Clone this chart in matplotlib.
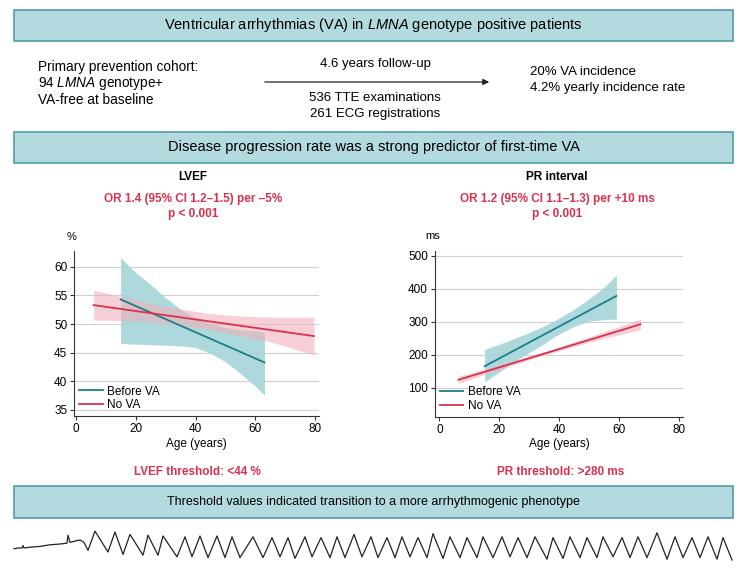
import matplotlib
matplotlib.use("Agg")
import matplotlib.pyplot as plt
from matplotlib.patches import Rectangle, FancyArrowPatch

plt.rcParams['font.family'] = ['Liberation Sans', 'DejaVu Sans']
plt.rcParams['mathtext.fontset'] = 'custom'
plt.rcParams['mathtext.it'] = 'Liberation Sans:italic'
plt.rcParams['mathtext.rm'] = 'Liberation Sans'

#colours
box_fill = '#b3dade'
box_edge = '#4f9ea5'
teal = '#1b7f8a'
teal_band = '#a9d6da'
red = '#d8324f'
red_band = '#f2b0bb'

#LVEF panel data (age in years, LVEF %)
lvef_va_age = [15, 63]
lvef_va_fit = [54.3, 43.3]
lvef_va_band_age = [15, 20, 25, 30, 35, 40, 45, 50, 55, 60, 63]
lvef_va_lo = [46.6, 46.5, 46.4, 46.3, 46.2, 45.9, 44.9, 43.4, 41.4, 39.1, 37.6]
lvef_va_hi = [61.6, 59.0, 56.9, 54.6, 52.6, 51.1, 50.1, 49.4, 49.0, 48.8, 48.6]

lvef_no_age = [6, 79.5]
lvef_no_fit = [53.3, 47.9]
lvef_no_band_age = [6, 15, 25, 35, 45, 55, 65, 79.5]
lvef_no_lo = [50.7, 50.6, 50.4, 49.8, 49.0, 48.0, 46.9, 44.6]
lvef_no_hi = [55.9, 54.8, 53.6, 52.6, 51.8, 51.4, 51.2, 51.2]

#PR interval panel data (age in years, PR ms)
pr_va_age = [15.1, 59]
pr_va_fit = [165, 378]
pr_va_band_age = [15.1, 22, 28, 34, 39, 45, 50, 55, 59]
pr_va_lo = [118, 160, 196, 228, 258, 286, 302, 306, 308]
pr_va_hi = [216, 238, 260, 283, 306, 338, 370, 405, 442]

pr_no_age = [6.4, 67]
pr_no_fit = [124, 292]
pr_no_band_age = [6.4, 20, 35, 50, 67]
pr_no_lo = [113, 155, 199, 238, 276]
pr_no_hi = [135, 169, 209, 254, 308]

#ECG strip (time in px units, amplitude in arbitrary units)
ecg_t = [14, 18, 22, 23, 24, 30, 40, 50, 60, 67, 68, 70, 76, 80, 84, 88, 95, 108, 115, 123, 130, 143, 148, 158,
         163, 177, 185, 192, 200, 208, 217, 225, 232, 240, 253, 263, 272, 280, 288, 295, 305, 312, 321, 330,
         337, 345, 354, 362, 371, 378, 387, 395, 402, 410, 418, 427, 433, 443, 450, 460, 467, 477, 483, 493,
         502, 510, 518, 527, 535, 547, 553, 563, 570, 580, 587, 597, 603, 613, 622, 630, 638, 647, 657, 667,
         675, 683, 692, 700, 708, 717, 723, 732]
ecg_amp = [-0.1, 0.0, 0.0, 0.3, 0.0, 0.1, 0.2, 0.4, 0.5, 0.6, 1.6, 0.7, 0.9, 1.0, 0.7, -0.3, 2.1, -0.5, 2.0, -0.8,
           1.7, -0.9, 1.6, -0.9, 1.5, -1.1, 1.4, -1.1, 1.5, -1.2, 1.5, -1.2, 1.4, -1.2, 1.4, -1.2, 1.3, -1.1,
           1.3, -1.3, 1.4, -1.1, 1.3, -1.2, 1.4, -1.2, 1.7, -1.1, 1.4, -1.2, 1.3, -1.2, 1.4, -1.1, 1.3, -1.2,
           1.8, -1.3, 1.4, -1.2, 1.3, -1.2, 1.4, -1.2, 1.4, -1.1, 1.3, -1.2, 1.4, -1.4, 1.3, -1.3, 1.4, -1.2,
           1.3, -1.2, 1.4, -1.1, 1.3, -1.2, 1.4, -1.2, 1.9, -1.4, 1.4, -1.2, 1.3, -1.2, 1.4, -1.4, 1.3, -1.5]

fig = plt.figure(figsize=(7.47, 5.74), dpi=100)

#overlay in pixel coordinates for boxes and text
bg = fig.add_axes([0, 0, 1, 1])
bg.set_xlim(0, 747)
bg.set_ylim(574, 0)
bg.axis('off')

def banner(y0, y1, txt, size):
    bg.add_patch(Rectangle((14, y0), 719, y1 - y0, facecolor=box_fill, edgecolor=box_edge, lw=1.2))
    bg.text(373.5, (y0 + y1) / 2, txt, ha='center', va='center', fontsize=size)

banner(10, 41, r'Ventricular arrhythmias (VA) in $\mathit{LMNA}$ genotype positive patients', 10.5)
banner(132, 163, 'Disease progression rate was a strong predictor of first-time VA', 10.5)
banner(486, 518, 'Threshold values indicated transition to a more arrhythmogenic phenotype', 9)

bg.text(38, 67, 'Primary prevention cohort:', fontsize=9.8, va='center')
bg.text(38, 84, r'94 $\mathit{LMNA}$ genotype+', fontsize=9.8, va='center')
bg.text(38, 100, 'VA-free at baseline', fontsize=9.8, va='center')
bg.text(375, 64, '4.6 years follow-up', fontsize=9.5, ha='center', va='center')
bg.text(375, 98, '536 TTE examinations', fontsize=9.5, ha='center', va='center')
bg.text(375, 114, '261 ECG registrations', fontsize=9.5, ha='center', va='center')
bg.text(530, 72, '20% VA incidence', fontsize=9.5, va='center')
bg.text(530, 88, '4.2% yearly incidence rate', fontsize=9.5, va='center')
bg.add_patch(FancyArrowPatch((262, 82), (492, 82), arrowstyle='-|>', mutation_scale=9, lw=0.9, color='#222222'))

bg.text(193, 177, 'LVEF', fontsize=8.5, fontweight='bold', ha='center', va='center')
bg.text(193, 199, 'OR 1.4 (95% CI 1.2\u20131.5) per \u20135%', fontsize=8.5, fontweight='bold',
        color=red, ha='center', va='center')
bg.text(193, 214, 'p < 0.001', fontsize=8.5, fontweight='bold', color=red, ha='center', va='center')
bg.text(557, 177, 'PR interval', fontsize=8.5, fontweight='bold', ha='center', va='center')
bg.text(557, 199, 'OR 1.2 (95% CI 1.1\u20131.3) per +10 ms', fontsize=8.5, fontweight='bold',
        color=red, ha='center', va='center')
bg.text(557, 214, 'p < 0.001', fontsize=8.5, fontweight='bold', color=red, ha='center', va='center')
bg.text(197, 472, 'LVEF threshold: <44 %', fontsize=8.5, fontweight='bold', color=red, ha='center', va='center')
bg.text(561, 472, 'PR threshold: >280 ms', fontsize=8.5, fontweight='bold', color=red, ha='center', va='center')
bg.text(72, 237, '%', fontsize=8, ha='center', va='center')
bg.text(433, 236, 'ms', fontsize=8, ha='center', va='center')

#ECG strip
ecg = fig.add_axes([0, 1 - 565 / 574, 1, 40 / 574])
ecg.plot(ecg_t, ecg_amp, color='#222222', lw=0.9, solid_joinstyle='round')
ecg.set_xlim(0, 747)
ecg.set_ylim(-2.125, 2.875)
ecg.axis('off')


def panel(rect, xlim, ylim, yticks, va, no):
    ax = fig.add_axes(rect)
    ax.patch.set_alpha(0)
    band_age, lo, hi, fit_age, fit = va
    ax.fill_between(band_age, lo, hi, color=teal_band, alpha=0.95, lw=0)
    band_age2, lo2, hi2, fit_age2, fit2 = no
    ax.fill_between(band_age2, lo2, hi2, color=red_band, alpha=0.6, lw=0)
    ax.plot(fit_age, fit, color=teal, lw=1.3, label='Before VA')
    ax.plot(fit_age2, fit2, color=red, lw=1.3, label='No VA')
    ax.set_xlim(*xlim)
    ax.set_ylim(*ylim)
    ax.set_xticks([0, 20, 40, 60, 80])
    ax.set_yticks(yticks)
    ax.grid(axis='y', color='#d0d0d0', lw=0.8)
    ax.set_axisbelow(True)
    for s in ['top', 'right']:
        ax.spines[s].set_visible(False)
    for s in ['left', 'bottom']:
        ax.spines[s].set_color('#333333')
        ax.spines[s].set_linewidth(0.8)
    ax.tick_params(labelsize=8.5, length=3, width=0.8, color='#333333', pad=2)
    ax.set_xlabel('Age (years)', fontsize=8.5, labelpad=2)
    ax.legend(loc='lower left', bbox_to_anchor=(0.0, 0.0), frameon=False, fontsize=8.5,
              handlelength=2.0, handletextpad=0.4, labelspacing=0.15, borderpad=0.2, borderaxespad=0.2)
    return ax


panel([74.3 / 747, 1 - 416 / 574, (319 - 74.3) / 747, (416 - 250.7) / 574], (-0.47, 81.2), (33.95, 62.8),
      [35, 40, 45, 50, 55, 60],
      (lvef_va_band_age, lvef_va_lo, lvef_va_hi, lvef_va_age, lvef_va_fit),
      (lvef_no_band_age, lvef_no_lo, lvef_no_hi, lvef_no_age, lvef_no_fit))

panel([435 / 747, 1 - 416.7 / 574, (683.3 - 435) / 747, (416.7 - 250.7) / 574], (-1.44, 81.3), (12.1, 515),
      [100, 200, 300, 400, 500],
      (pr_va_band_age, pr_va_lo, pr_va_hi, pr_va_age, pr_va_fit),
      (pr_no_band_age, pr_no_lo, pr_no_hi, pr_no_age, pr_no_fit))

fig.savefig('out.png', dpi=100)
